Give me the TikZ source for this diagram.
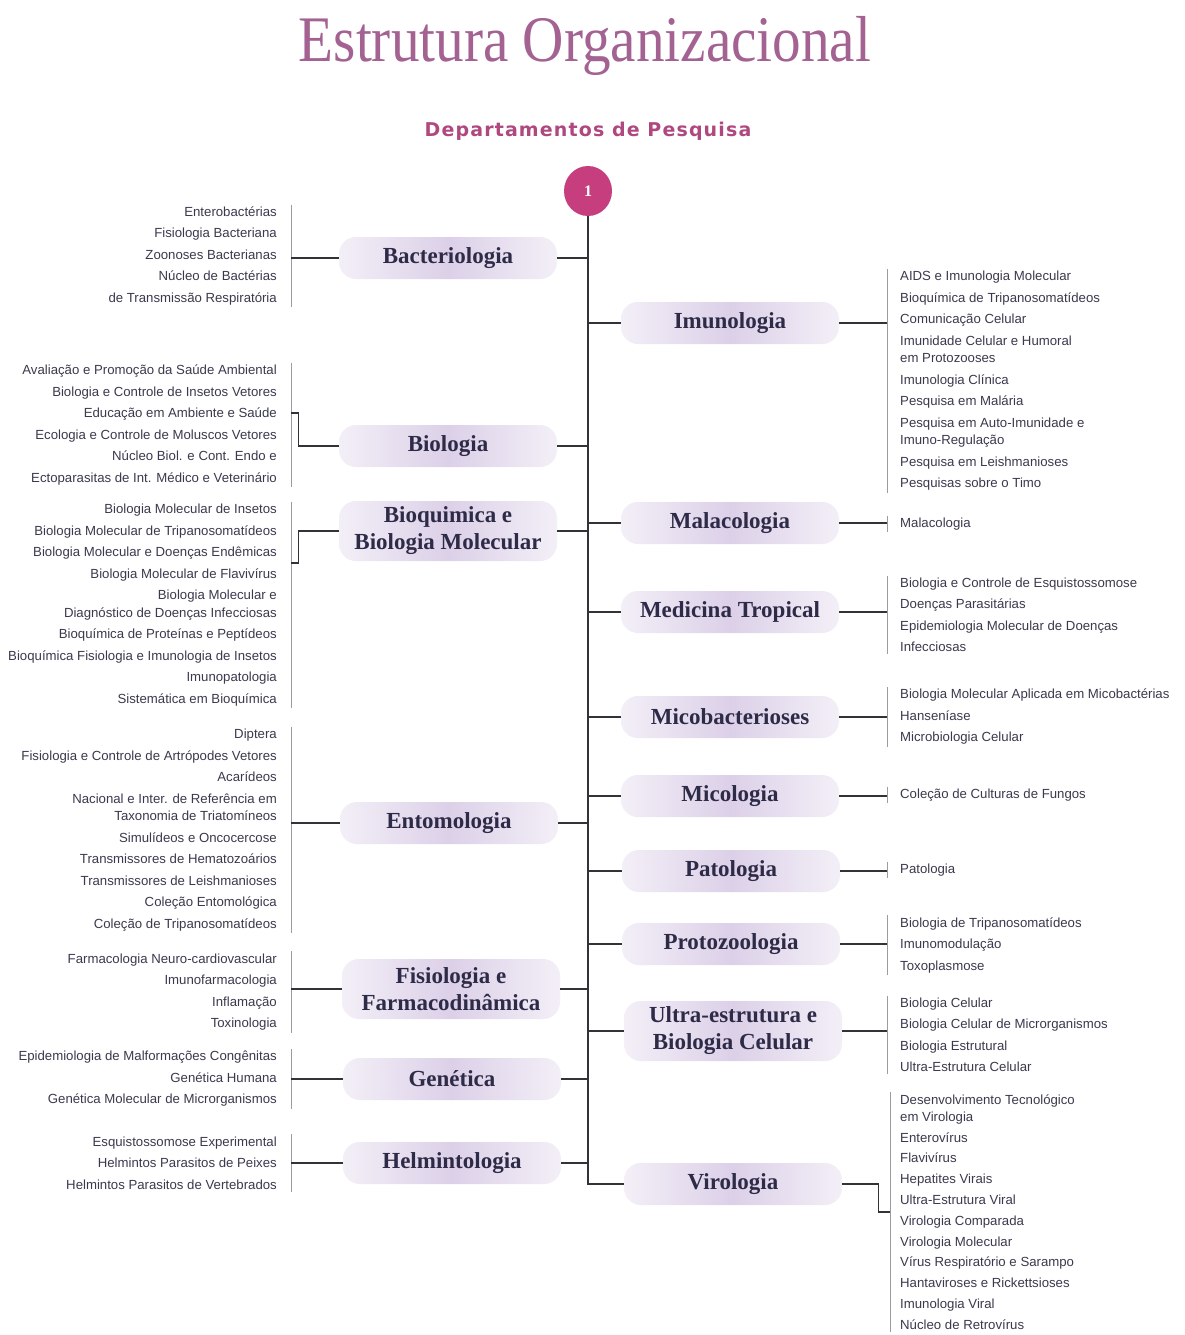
\documentclass[tikz,border=0pt]{standalone}
\usepackage{fontspec}
\usetikzlibrary{shapes.geometric}
\setmainfont{Liberation Serif}
\newfontfamily\smallsans{Liberation Sans}
\newfontfamily\titlefont[FakeStretch=0.88]{Liberation Serif}
\newfontfamily\subfont[LetterSpace=6]{DejaVu Sans}
\definecolor{titleC}{RGB}{163,98,146}
\definecolor{subC}{RGB}{176,72,128}
\definecolor{circC}{RGB}{198,62,126}
\definecolor{deptMid}{RGB}{220,208,232}
\definecolor{deptEdge}{RGB}{243,239,247}
\definecolor{deptText}{RGB}{46,43,72}
\definecolor{lineC}{RGB}{50,50,55}
\definecolor{brC}{RGB}{155,155,160}
\definecolor{listC}{RGB}{58,58,78}
\begin{document}
\begin{tikzpicture}[x=1pt,y=-1pt,
  dept/.style={rounded corners=17pt, left color=deptEdge, right color=deptEdge, middle color=deptMid,
    minimum width=218pt, minimum height=42pt, inner sep=0pt, align=center, text=deptText,
    font=\fontsize{23}{27}\selectfont\bfseries},
  dept2/.style={dept, minimum height=60pt},
  llist/.style={anchor=east, align=right, inner sep=2pt, text=listC, font=\smallsans\fontsize{13.2}{21.5}\selectfont},
  rlist/.style={anchor=west, align=left, inner sep=2pt, text=listC, font=\smallsans\fontsize{13.2}{21.5}\selectfont},
  spine/.style={draw=lineC, line width=2pt},
  conn/.style={draw=lineC, line width=1.6pt},
  sconn/.style={draw=lineC, line width=1.2pt},
  brk/.style={draw=brC, line width=1pt}]
\useasboundingbox[fill=white] (0,0) rectangle (1185,1335);

% titles
\node[anchor=base, text=titleC, font=\titlefont\fontsize{65}{70}\selectfont] (title) at (585,62) {Estrutura Organizacional};
\node[anchor=base, text=subC, font=\subfont\bfseries\fontsize{19}{21}\selectfont] (sub) at (588,136) {Departamentos de Pesquisa};

\node[ellipse, fill=circC, minimum width=48pt, minimum height=50pt, inner sep=0pt, text=white,
  font=\bfseries\fontsize{16}{16}\selectfont] (c) at (588,191) {1};

% departments left
\node[dept] (Dbac) at (448,258) {Bacteriologia};
\node[dept] (Dbio) at (448,446) {Biologia};
\node[dept2] (Dbq) at (448,531) {Bioquimica e\\Biologia Molecular};
\node[dept] (Dent) at (449,823) {Entomologia};
\node[dept2] (Dfis) at (451,989) {Fisiologia e\\Farmacodinâmica};
\node[dept] (Dgen) at (452,1079) {Genética};
\node[dept] (Dhel) at (452,1163) {Helmintologia};

% departments right
\node[dept] (Dimu) at (730,323) {Imunologia};
\node[dept] (Dmal) at (730,523) {Malacologia};
\node[dept] (Dmed) at (730,612) {Medicina Tropical};
\node[dept] (Dmic) at (730,717) {Micobacterioses};
\node[dept] (Dmico) at (730,796) {Micologia};
\node[dept] (Dpat) at (731,871) {Patologia};
\node[dept] (Dpro) at (731,944) {Protozoologia};
\node[dept2] (Dult) at (733,1031) {Ultra-estrutura e\\Biologia Celular};
\node[dept] (Dvir) at (733,1184) {Virologia};

% spine
\draw[spine] (c.south) |- (Dvir.west);
\foreach \d in {Dbac,Dbio,Dbq,Dent,Dfis,Dgen,Dhel}{
  \draw[conn] (\d.east) -- (\d.east -| c.south);
}
\foreach \d in {Dimu,Dmal,Dmed,Dmic,Dmico,Dpat,Dpro,Dult}{
  \draw[conn] (c.south |- \d.west) -- (\d.west);
}

% lists left
\node[llist] (Lbac) at (279,256) {Enterobactérias\\Fisiologia Bacteriana\\Zoonoses Bacterianas\\Núcleo de Bactérias\\de Transmissão Respiratória};
\node[llist] (Lbio) at (279,425) {Avaliação e Promoção da Saúde Ambiental\\Biologia e Controle de Insetos Vetores\\Educação em Ambiente e Saúde\\Ecologia e Controle de Moluscos Vetores\\Núcleo Biol. e Cont. Endo e\\Ectoparasitas de Int. Médico e Veterinário};
\node[llist] (Lbq) at (279,605) {Biologia Molecular de Insetos\\Biologia Molecular de Tripanosomatídeos\\Biologia Molecular e Doenças Endêmicas\\Biologia Molecular de Flavivírus\\Biologia Molecular e\\[-4pt]Diagnóstico de Doenças Infecciosas\\Bioquímica de Proteínas e Peptídeos\\Bioquímica Fisiologia e Imunologia de Insetos\\Imunopatologia\\Sistemática em Bioquímica};
\node[llist] (Lent) at (279,830) {Diptera\\Fisiologia e Controle de Artrópodes Vetores\\Acarídeos\\Nacional e Inter. de Referência em\\[-4pt]Taxonomia de Triatomíneos\\Simulídeos e Oncocercose\\Transmissores de Hematozoários\\Transmissores de Leishmanioses\\Coleção Entomológica\\Coleção de Tripanosomatídeos};
\node[llist] (Lfis) at (279,992) {Farmacologia Neuro-cardiovascular\\Imunofarmacologia\\Inflamação\\Toxinologia};
\node[llist] (Lgen) at (279,1079) {Epidemiologia de Malformações Congênitas\\Genética Humana\\Genética Molecular de Microrganismos};
\node[llist] (Lhel) at (279,1163) {Esquistossomose Experimental\\Helmintos Parasitos de Peixes\\Helmintos Parasitos de Vertebrados};

% lists right
\node[rlist] (Limu) at (898,381) {AIDS e Imunologia Molecular\\Bioquímica de Tripanosomatídeos\\Comunicação Celular\\Imunidade Celular e Humoral\\[-4pt]em Protozooses\\Imunologia Clínica\\Pesquisa em Malária\\Pesquisa em Auto-Imunidade e\\[-4pt]Imuno-Regulação\\Pesquisa em Leishmanioses\\Pesquisas sobre o Timo};
\node[rlist] (Lmal) at (898,524) {Malacologia};
\node[rlist] (Lmed) at (898,615) {Biologia e Controle de Esquistossomose\\Doenças Parasitárias\\Epidemiologia Molecular de Doenças\\Infecciosas};
\node[rlist] (Lmic) at (898,717) {Biologia Molecular Aplicada em Micobactérias\\Hanseníase\\Microbiologia Celular};
\node[rlist] (Lmico) at (898,795) {Coleção de Culturas de Fungos};
\node[rlist] (Lpat) at (898,870) {Patologia};
\node[rlist] (Lpro) at (898,945) {Biologia de Tripanosomatídeos\\Imunomodulação\\Toxoplasmose};
\node[rlist] (Lult) at (898,1035) {Biologia Celular\\Biologia Celular de Microrganismos\\Biologia Estrutural\\Ultra-Estrutura Celular};
\node[rlist, font=\smallsans\fontsize{13.2}{20.8}\selectfont] (Lvir) at (898,1212) {Desenvolvimento Tecnológico\\[-4pt]em Virologia\\Enterovírus\\Flavivírus\\Hepatites Virais\\Ultra-Estrutura Viral\\Virologia Comparada\\Virologia Molecular\\Vírus Respiratório e Sarampo\\Hantaviroses e Rickettsioses\\Imunologia Viral\\Núcleo de Retrovírus};

% brackets and connectors left
\foreach \d/\l in {Dbac/Lbac,Dent/Lent,Dfis/Lfis,Dgen/Lgen,Dhel/Lhel}{
  \draw[brk] ([xshift=12pt]\l.north east) -- ([xshift=12pt]\l.south east);
  \draw[sconn] (\d.west) -- ([xshift=12pt]\l.east |- \d.west);
}
\draw[brk] ([xshift=12pt]Lbio.north east) -- ([xshift=12pt]Lbio.south east);
\draw[sconn] (Dbio.west) -- ++(-40,0) -- ++(0,-33) -- ++(-8,0);
\draw[brk] ([xshift=12pt]Lbq.north east) -- ([xshift=12pt]Lbq.south east);
\draw[sconn] (Dbq.west) -- ++(-40,0) -- ++(0,32) -- ++(-8,0);

% brackets and connectors right
\foreach \d/\l in {Dimu/Limu,Dmal/Lmal,Dmed/Lmed,Dmic/Lmic,Dmico/Lmico,Dpat/Lpat,Dpro/Lpro,Dult/Lult}{
  \draw[brk] ([xshift=-11pt]\l.north west) -- ([xshift=-11pt]\l.south west);
  \draw[sconn] (\d.east) -- ([xshift=-11pt]\l.west |- \d.east);
}
\draw[brk] ([xshift=-8pt]Lvir.north west) -- ([xshift=-8pt]Lvir.south west);
\draw[sconn] (Dvir.east) -- ++(36,0) |- ([xshift=-8pt]Lvir.west);
\end{tikzpicture}
\end{document}
